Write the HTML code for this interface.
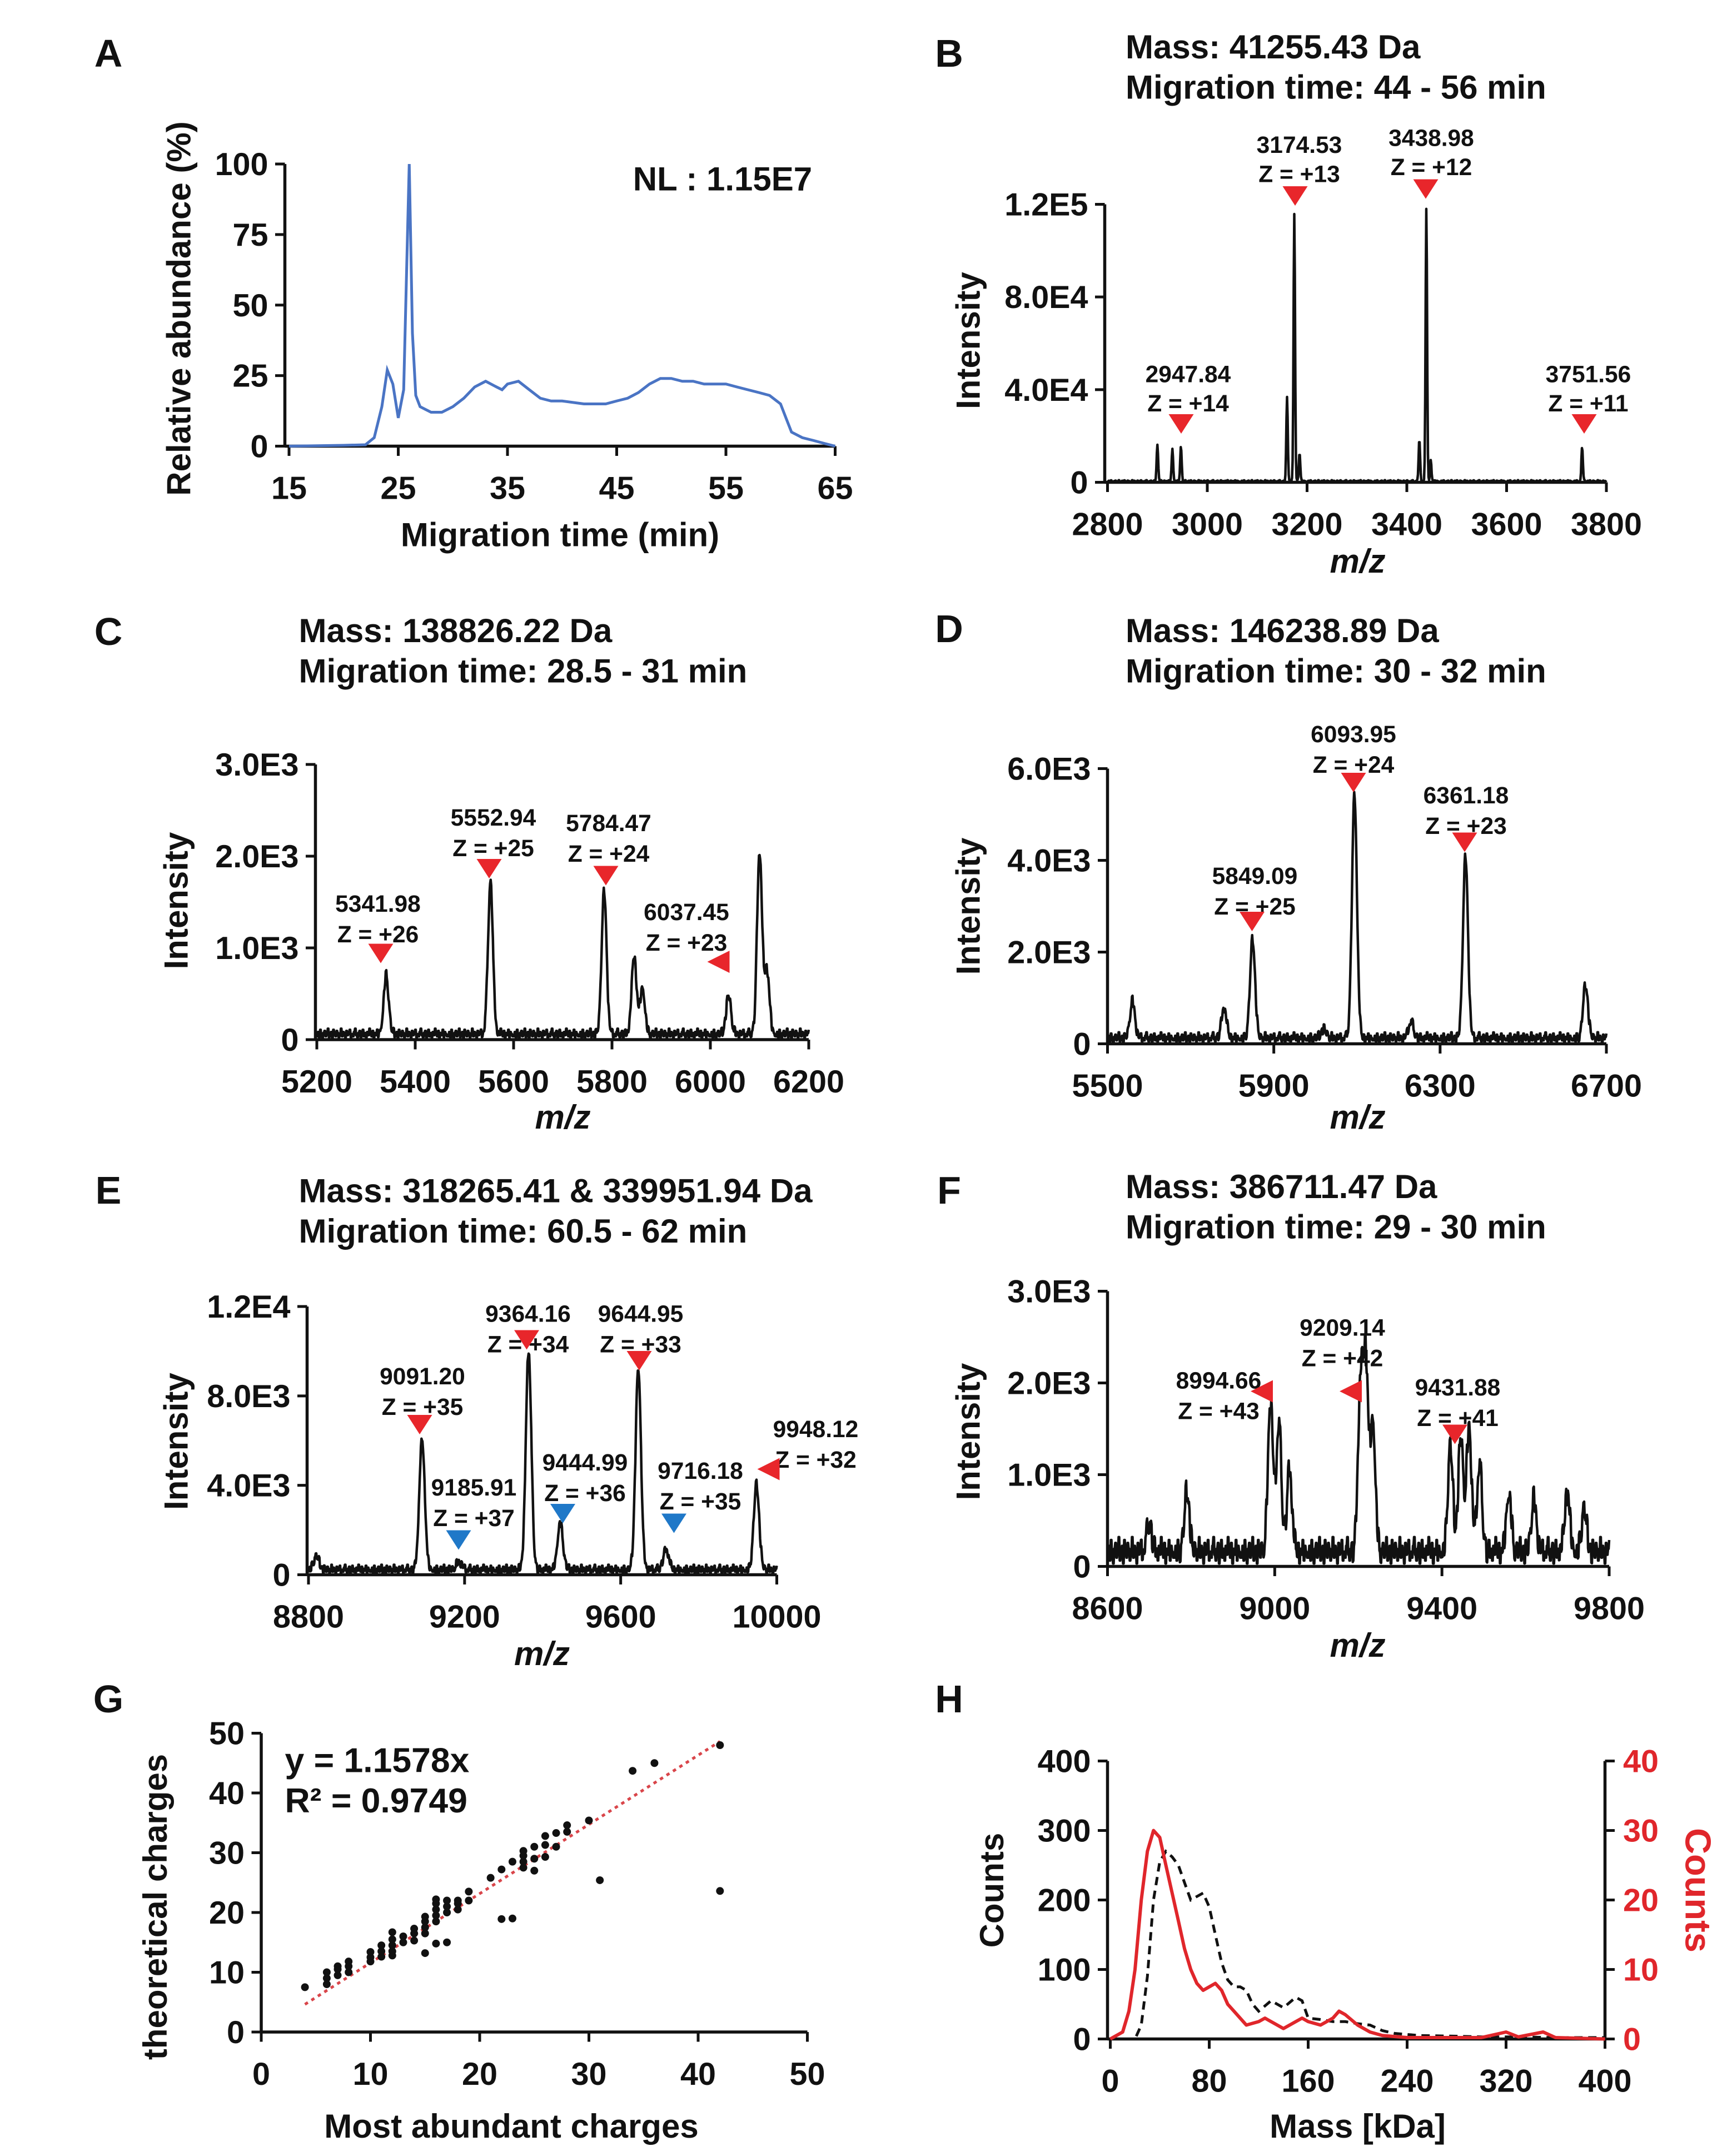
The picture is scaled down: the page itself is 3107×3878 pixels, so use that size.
<!DOCTYPE html>
<html><head><meta charset="utf-8">
<style>
html,body{margin:0;padding:0;background:#fff;}
svg{display:block;font-family:"Liberation Sans",Arial,sans-serif;font-weight:bold;}
</style></head>
<body>
<svg id="fig" xmlns="http://www.w3.org/2000/svg" width="3107" height="3878" viewBox="0 0 1242.8 1551.2">
<rect width="1242.8" height="1551.2" fill="#fff"/>
</svg>
<script>
// ---------- DATA ----------
const aTime = [15,20,22,22.8,23.5,24,24.5,25,25.5,26,26.3,26.6,27,28,29,30,31,32,33,34,34.5,35,36,37,38,39,40,42,44,45,46,47,48,49,50,51,52,53,54,55,56,57,58,59,60,60.5,61,62,63,64,65];
const aAbund = [0,0.3,0.5,3,14,27,22,10,20,100,40,18,14,12,12,14,17,21,23,21,20,22,23,20,17,16,16,15,15,16,17,19,22,24,24,23,23,22,22,22,21,20,19,18,15,10,5,3,2,1,0];
const bPeaks = [[2900,16000],[2930,14000],[2947,15000],[3160,36000],[3174.5,115000],[3185,12000],[3425,18000],[3439,118000],[3448,9000],[3751.5,15000]];
const cPeaks = [[5341,650],[5553,1650],[5784,1550],[5845,850],[5862,500],[6037,420],[6100,1980],[6115,700]];
const dPeaks = [[5560,800],[5780,650],[5849,2150],[6094,5300],[6361,3950],[6650,1150],[6230,350],[6020,200]];
const ePeaks = [[8820,600],[9091,5800],[9186,350],[9364,9800],[9445,2100],[9645,9000],[9716,900],[9948,3800]];
const fPeaks = [[8790,650],[8990,1650],[9010,1400],[9035,900],[9205,1750],[9218,2050],[9235,1400],[9420,1150],[9445,1250],[9465,1350],[9490,950],[9560,650],[9620,550],[9700,650],[9740,450],[8700,300]];
const noise = [0.3,0.7,0.2,0.9,0.4,0.1,0.6,0.8,0.3,0.5,1.0,0.2,0.4,0.7,0.1,0.9,0.5,0.3,0.8,0.6,0.2,0.4,1.0,0.3,0.7,0.5,0.1,0.8,0.4,0.6,0.9,0.2,0.5,0.3,0.7,1.0,0.4,0.2,0.6,0.8,0.1,0.5,0.9,0.3,0.6,0.2,0.7,0.4,1.0,0.5,0.3,0.8,0.1,0.6,0.4,0.9,0.2,0.7,0.5,0.3];
const gX = [4,6,6,6,7,7,7,8,8,8,10,10,10,11,11,11,12,12,12,12,12,13,13,14,14,14,15,15,15,15,15,16,16,16,16,16,16,17,17,17,17,18,18,18,19,19,21,22,22,23,23,24,24,24,24,25,25,25,26,26,26,27,27,28,28,30,31,34,36,42,42];
const gY = [7.5,8,9,10,9.5,10.5,11,10,11,11.8,11.8,12.5,13.4,12.6,13.5,14.5,12.8,13.5,14.5,15.5,16.7,15,16,15.3,16.5,17.3,16.5,17.5,18.5,19.3,13.2,18.5,19.5,20.5,21.5,22.2,14.8,20,21,22,15,20.5,21.5,22,22,23.5,25.8,27.2,18.9,28.5,19,27.5,28.5,29.5,30.3,31,29,27,31.3,32.8,29.3,33.3,31,33.5,34.6,35.4,25.4,43.7,45,48,23.6];
const hMass = [0,10,20,25,30,35,40,45,50,55,60,65,70,75,80,85,90,95,100,105,110,115,120,130,140,150,155,160,170,180,190,200,210,220,230,250,280,300,330,360,400];
const hDashed = [0,0,0,20,90,200,255,270,262,250,225,200,205,210,190,150,110,85,75,75,70,50,40,55,45,60,55,30,28,25,25,22,20,12,8,5,4,3,3,2,2];
const hRedMass = [0,10,15,20,25,30,35,40,45,50,55,60,65,70,75,80,85,90,95,100,110,120,125,130,140,150,155,160,170,180,185,190,200,210,220,240,300,320,330,350,360,400];
const hRed = [0,1,4,10,20,27,30,29,25,21,17,13,10,8,7,7.5,8,7,5,4,2,2.5,3,2.5,1.5,2.5,3,2.5,2,3,4,3.5,2,1,0.5,0.2,0.2,1,0.3,1,0.2,0];

// ---------- HELPERS ----------
const NS='http://www.w3.org/2000/svg';
const svg=document.getElementById('fig');
function el(tag,attrs,parent){const e=document.createElementNS(NS,tag);for(const k in attrs)e.setAttribute(k,attrs[k]);(parent||svg).appendChild(e);return e;}
function txt(s,x,y,size,anchor,parent,extra){const t=el('text',Object.assign({x:x,y:y,'font-size':size,'text-anchor':anchor||'start',fill:'#111'},extra||{}),parent);t.textContent=s;return t;}
function lin(d0,d1,r0,r1){return v=>r0+(v-d0)/(d1-d0)*(r1-r0);}

function axes(g,x0,x1,yTop,yBot,xt,xs,yt,ys,opts){
  opts=opts||{};
  el('line',{x1:x0,y1:yTop,x2:x0,y2:yBot,stroke:'#111','stroke-width':2.2},g);
  el('line',{x1:x0,y1:yBot,x2:x1,y2:yBot,stroke:'#111','stroke-width':2.2},g);
  xt.forEach((v,i)=>{const x=xs(v);el('line',{x1:x,y1:yBot,x2:x,y2:yBot+7,stroke:'#111','stroke-width':2},g);
    const t=txt(String(v),x,yBot+38,opts.fs||23,'middle',g);
    });
  yt.forEach((lab,i)=>{const y=ys(opts.yvals[i]);el('line',{x1:x0-7,y1:y,x2:x0,y2:y,stroke:'#111','stroke-width':2},g);
    const t=txt(lab,x0-12,y+8,opts.fs||23,'end',g);
    });
}
function tri(g,x,y,dir,color){
  let p;
  if(dir==='down')p=[[x-9,y-7],[x+9,y-7],[x,y+7]];
  else p=[[x+8,y-8],[x+8,y+8],[x-8,y]];
  const t=el('polygon',{points:p.map(a=>a.join(',')).join(' '),fill:color||'#e8262b'},g);
  
}
function annot(g,lab,z,x,y1,y2){
  const a=txt(lab,x,y1,17,'middle',g);
  const b=txt(z,x,y2,17,'middle',g);
}
function spectrum(g,peaks,d0,d1,xs,ys,sigma,nAmp,yMax){
  const N=900;let pts=[];
  for(let i=0;i<=N;i++){
    const m=d0+(d1-d0)*i/N;let v=nAmp*noise[Math.floor(i/2)%noise.length];
    peaks.forEach(p=>{v+=p[1]*Math.exp(-0.5*Math.pow((m-p[0])/sigma,2));});
    v=Math.min(v,yMax);
    pts.push(xs(m).toFixed(1)+','+ys(v).toFixed(1));
  }
  const pl=el('polyline',{points:pts.join(' '),fill:'none',stroke:'#111','stroke-width':1.8,'stroke-linejoin':'round'},g);
  
}
function panelLetter(s,x,y){const t=txt(s,x,y,28,'middle');}
function ytitle(g,s,x,y,color){const t=el('text',{x:0,y:0,'font-size':24,'text-anchor':'middle',fill:color||'#111',transform:`translate(${x},${y}) rotate(-90)`},g);t.textContent=s;return t;}
function xtitle(g,s,x,y,italic){const t=txt(s,x,y,24,'middle',g,italic?{'font-style':'italic'}:{});}
function titles(g,a,b,x,y){const t1=txt(a,x,y,24,'start',g);
  const t2=txt(b,x,y+29,24,'start',g);}

// ---------- PANEL A ----------
(function(){
  const g=el('g',{});
  const xs=lin(15,65,208,601), ys=lin(0,100,321,118);
  axes(g,205,601,118,321,[15,25,35,45,55,65],xs,['100','75','50','25','0'],ys,{yvals:[100,75,50,25,0]});
  const pts=aTime.map((t,i)=>xs(t).toFixed(1)+','+ys(aAbund[i]).toFixed(1)).join(' ');
  const pl=el('polyline',{points:pts,fill:'none',stroke:'#4a74c4','stroke-width':2},g);
  
  xtitle(g,'Migration time (min)',403,393);
  ytitle(g,'Relative abundance (%)',137,222);
  const nl=txt('NL : 1.15E7',520,137,24,'middle',g);
})();
panelLetter('A',78,48);

// ---------- PANEL B ----------
(function(){
  const g=el('g',{});
  const xs=lin(2800,3800,797,1156), ys=lin(0,120000,347,147);
  spectrum(g,bPeaks,2800,3800,xs,ys,1.5,900,125000);
  axes(g,795,1156,147,347,[2800,3000,3200,3400,3600,3800],xs,['1.2E5','8.0E4','4.0E4','0'],ys,{yvals:[120000,80000,40000,0]});
  titles(g,'Mass: 41255.43 Da','Migration time: 44 - 56 min',810,42);
  xtitle(g,'m/z',977,412,true);ytitle(g,'Intensity',705,245);
  annot(g,'2947.84','Z = +14',855,275,296);tri(g,850,305,'down');
  annot(g,'3174.53','Z = +13',935,110,131);tri(g,932,141,'down');
  annot(g,'3438.98','Z = +12',1030,105,126);tri(g,1026,136,'down');
  annot(g,'3751.56','Z = +11',1143,275,296);tri(g,1140,305,'down');
})();
panelLetter('B',683,48);

// ---------- PANEL C ----------
(function(){
  const g=el('g',{});
  const xs=lin(5200,6200,228,582), ys=lin(0,3000,748,550);
  spectrum(g,cPeaks,5200,6200,xs,ys,5,120,3000);
  axes(g,227,582,550,748,[5200,5400,5600,5800,6000,6200],xs,['3.0E3','2.0E3','1.0E3','0'],ys,{yvals:[3000,2000,1000,0]});
  titles(g,'Mass: 138826.22 Da','Migration time: 28.5 - 31 min',215,462);
  xtitle(g,'m/z',405,812,true);ytitle(g,'Intensity',135,648);
  annot(g,'5341.98','Z = +26',272,656,678);tri(g,274,686,'down');
  annot(g,'5552.94','Z = +25',355,594,616);tri(g,352,625,'down');
  annot(g,'5784.47','Z = +24',438,598,620);tri(g,436,630,'down');
  annot(g,'6037.45','Z = +23',494,662,684);tri(g,517,692,'left');
})();
panelLetter('C',78,464);

// ---------- PANEL D ----------
(function(){
  const g=el('g',{});
  const xs=lin(5500,6700,797,1156), ys=lin(0,6000,751,553);
  spectrum(g,dPeaks,5500,6700,xs,ys,6,250,6000);
  axes(g,797,1156,553,751,[5500,5900,6300,6700],xs,['6.0E3','4.0E3','2.0E3','0'],ys,{yvals:[6000,4000,2000,0]});
  titles(g,'Mass: 146238.89 Da','Migration time: 30 - 32 min',810,462);
  xtitle(g,'m/z',977,812,true);ytitle(g,'Intensity',705,652);
  annot(g,'5849.09','Z = +25',903,636,658);tri(g,901,663,'down');
  annot(g,'6093.95','Z = +24',974,534,556);tri(g,974,563,'down');
  annot(g,'6361.18','Z = +23',1055,578,600);tri(g,1054,606,'down');
})();
panelLetter('D',683,462);

// ---------- PANEL E ----------
(function(){
  const g=el('g',{});
  const xs=lin(8800,10000,222,559), ys=lin(0,12000,1133,940);
  spectrum(g,ePeaks,8800,10000,xs,ys,7,450,12000);
  axes(g,221,559,940,1133,[8800,9200,9600,10000],xs,['1.2E4','8.0E3','4.0E3','0'],ys,{yvals:[12000,8000,4000,0]});
  titles(g,'Mass: 318265.41 & 339951.94 Da','Migration time: 60.5 - 62 min',215,865);
  xtitle(g,'m/z',390,1198,true);ytitle(g,'Intensity',135,1037);
  annot(g,'9091.20','Z = +35',304,996,1018);tri(g,302,1025,'down');
  annot(g,'9185.91','Z = +37',341,1076,1098);tri(g,330,1108,'down','#1f78c8');
  annot(g,'9364.16','Z = +34',380,951,973);tri(g,379,964,'down');
  annot(g,'9444.99','Z = +36',421,1058,1080);tri(g,405,1089,'down','#1f78c8');
  annot(g,'9644.95','Z = +33',461,951,973);tri(g,460,979,'down');
  annot(g,'9716.18','Z = +35',504,1064,1086);tri(g,485,1096,'down','#1f78c8');
  annot(g,'9948.12','Z = +32',587,1034,1056);tri(g,553,1057,'left');
})();
panelLetter('E',78,866);

// ---------- PANEL F ----------
(function(){
  const g=el('g',{});
  const xs=lin(8600,9800,797,1158), ys=lin(0,3000,1127,929);
  spectrum(g,fPeaks,8600,9800,xs,ys,6,320,3000);
  axes(g,797,1158,929,1127,[8600,9000,9400,9800],xs,['3.0E3','2.0E3','1.0E3','0'],ys,{yvals:[3000,2000,1000,0]});
  titles(g,'Mass: 386711.47 Da','Migration time: 29 - 30 min',810,862);
  xtitle(g,'m/z',977,1192,true);ytitle(g,'Intensity',705,1030);
  annot(g,'8994.66','Z = +43',877,999,1021);tri(g,908,1001,'left');
  annot(g,'9209.14','Z = +42',966,961,983);tri(g,972,1001,'left');
  annot(g,'9431.88','Z = +41',1049,1004,1026);tri(g,1047,1032,'down');
})();
panelLetter('F',683,866);

// ---------- PANEL G ----------
(function(){
  const g=el('g',{});
  const xs=lin(0,50,188,581), ys=lin(0,50,1462,1247);
  axes(g,188,581,1247,1462,[0,10,20,30,40,50],xs,['50','40','30','20','10','0'],ys,{yvals:[50,40,30,20,10,0]});
  const fit=el('line',{x1:xs(4),y1:ys(4*1.1578),x2:xs(42),y2:ys(42*1.1578),stroke:'#d9454a','stroke-width':2,'stroke-dasharray':'2.5,3'},g);
  
  gX.forEach((x,i)=>{const c=el('circle',{cx:xs(x),cy:ys(gY[i]),r:2.8,fill:'#111'},g);
    });
  const e1=txt('y = 1.1578x',205,1275,25,'start',g);
  const e2=txt('R² = 0.9749',205,1304,25,'start',g);
  xtitle(g,'Most abundant charges',368,1538);ytitle(g,'theoretical charges',120,1372);
})();
panelLetter('G',78,1232);

// ---------- PANEL H ----------
(function(){
  const g=el('g',{});
  const xs=lin(0,400,799,1155), ys=lin(0,400,1467,1267), ysR=lin(0,40,1467,1267);
  axes(g,797,1155,1267,1467,[0,80,160,240,320,400],xs,['400','300','200','100','0'],ys,{yvals:[400,300,200,100,0]});
  el('line',{x1:1155,y1:1267,x2:1155,y2:1467,stroke:'#111','stroke-width':2.2},g);
  [40,30,20,10,0].forEach(v=>{const y=ysR(v);el('line',{x1:1155,y1:y,x2:1162,y2:y,stroke:'#111','stroke-width':2},g);
    const t=txt(String(v),1168,y+8,23,'start',g,{fill:'#e0262b'});});
  const d=el('polyline',{points:hMass.map((m,i)=>xs(m).toFixed(1)+','+ys(hDashed[i]).toFixed(1)).join(' '),fill:'none',stroke:'#111','stroke-width':2,'stroke-dasharray':'6,4'},g);
  
  const r=el('polyline',{points:hRedMass.map((m,i)=>xs(m).toFixed(1)+','+ysR(hRed[i]).toFixed(1)).join(' '),fill:'none',stroke:'#e0262b','stroke-width':2.4,'stroke-linejoin':'round'},g);
  
  xtitle(g,'Mass [kDa]',977,1538);ytitle(g,'Counts',722,1360);
  const rt=el('text',{x:0,y:0,'font-size':26,'text-anchor':'middle',fill:'#e0262b',transform:'translate(1213,1360) rotate(90)'},g);rt.textContent='Counts';
  
})();
panelLetter('H',683,1232);
</script>
</body></html>
